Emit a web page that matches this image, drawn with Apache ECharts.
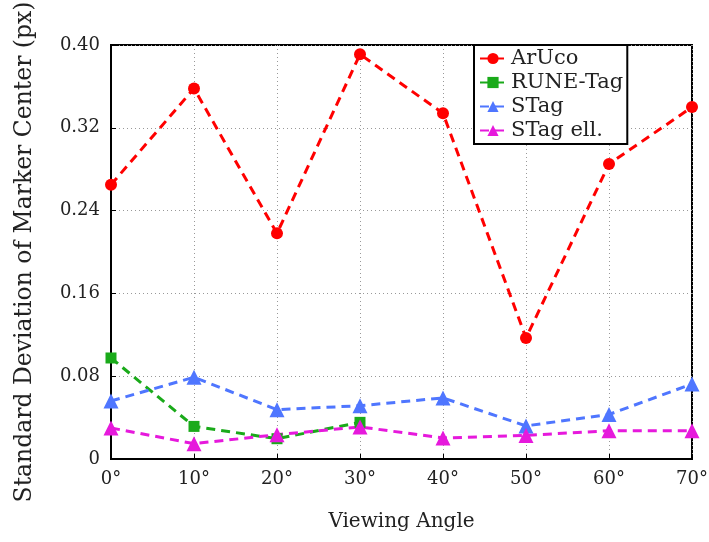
<!DOCTYPE html>
<html lang="en">
<head>
    <meta charset="UTF-8">
    <title>Viewing Angle</title>
    <script src="https://cdn.jsdelivr.net/npm/echarts@6/dist/echarts.min.js"></script>
    <style>
        body { margin: 0; background: #fff; }
        #main { width: 709px; height: 542px; }
    </style>
</head>
<body>
    <div id="main"></div>
    <script type="text/javascript">
        // data
        var angles = [0, 10, 20, 30, 40, 50, 60, 70];
        var yTicks = [0, 0.08, 0.16, 0.24, 0.32, 0.40];
        var aruco = [0.265, 0.358, 0.218, 0.391, 0.334, 0.117, 0.285, 0.340];
        var runeTag = [0.0976, 0.0315, 0.0196, 0.0354];
        var stag = [0.056, 0.079, 0.0476, 0.0515, 0.059, 0.032, 0.043, 0.0725];
        var stagEll = [0.030, 0.0148, 0.0235, 0.031, 0.0203, 0.0228, 0.0273, 0.0273];

        function pairs(vals) {
            return vals.map(function (v, i) { return [angles[i], v]; });
        }

        var font = "'DejaVu Serif', 'Liberation Serif', serif";

        function line(name, vals, color, symbol, size) {
            return {
                name: name,
                type: 'line',
                data: pairs(vals),
                symbol: symbol,
                symbolSize: size,
                itemStyle: { color: color },
                lineStyle: { color: color, width: 3, type: [9, 6] },
                z: 3
            };
        }

        var myChart = echarts.init(document.getElementById('main'));

        var option = {
            animation: false,
            textStyle: { fontFamily: font },
            grid: {
                left: 111, right: 17, top: 45, bottom: 83,
                outerBoundsMode: 'none',
                show: true, borderColor: '#000', borderWidth: 2
            },
            legend: {
                orient: 'vertical',
                left: 474, top: 45,
                backgroundColor: '#fff',
                borderColor: '#000', borderWidth: 2,
                padding: [3, 4, 3, 5],
                itemGap: 3,
                itemWidth: 26, itemHeight: 14,
                textStyle: { fontFamily: font, fontSize: 21, lineHeight: 20, color: '#222' },
                data: ['ArUco', 'RUNE-Tag', 'STag', 'STag ell.']
            },
            xAxis: {
                type: 'value',
                min: angles[0], max: angles[angles.length - 1], interval: 10,
                name: 'Viewing Angle',
                nameLocation: 'middle', nameGap: 53,
                nameTextStyle: { fontFamily: font, fontSize: 20, color: '#222' },
                axisLine: { lineStyle: { color: '#000', width: 2 } },
                axisTick: { inside: true, length: 5, lineStyle: { color: '#000' } },
                axisLabel: { formatter: '{value}°', fontSize: 18, color: '#222', margin: 11 },
                splitLine: { show: true, lineStyle: { color: '#999', type: [1, 3] } }
            },
            yAxis: {
                type: 'value',
                min: yTicks[0], max: yTicks[yTicks.length - 1], interval: 0.08,
                name: 'Standard Deviation of Marker Center (px)',
                nameLocation: 'middle', nameGap: 74,
                nameTextStyle: { fontFamily: font, fontSize: 23.5, color: '#222' },
                axisLine: { lineStyle: { color: '#000', width: 2 } },
                axisTick: { inside: true, length: 5, lineStyle: { color: '#000' } },
                axisLabel: {
                    fontSize: 18, color: '#222', margin: 11,
                    formatter: function (v) { return v === 0 ? '0' : v.toFixed(2); }
                },
                splitLine: { show: true, lineStyle: { color: '#999', type: [1, 3] } }
            },
            series: [
                line('ArUco', aruco, '#ff0000', 'circle', 12),
                line('RUNE-Tag', runeTag, '#1aaa1a', 'rect', 11),
                line('STag', stag, '#4f76ff', 'triangle', 15),
                line('STag ell.', stagEll, '#e619dc', 'triangle', 15)
            ]
        };

        myChart.setOption(option);
    </script>
</body>
</html>
